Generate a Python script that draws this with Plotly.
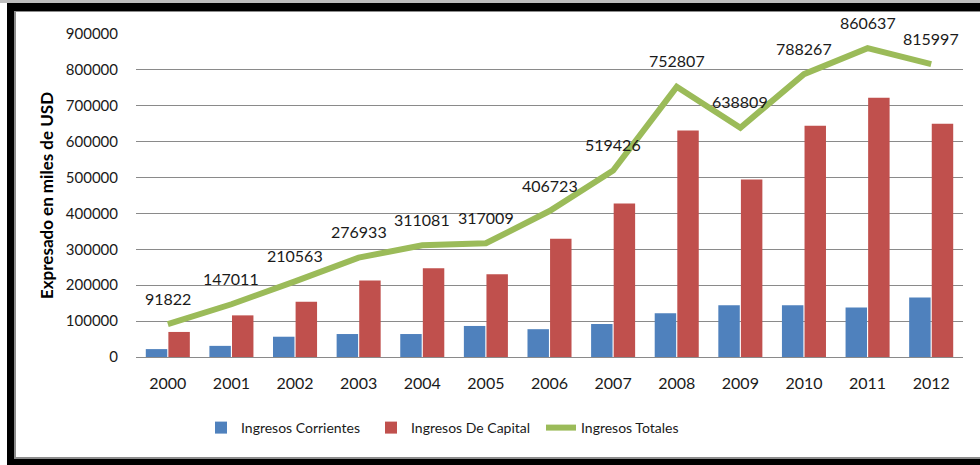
import plotly.graph_objects as go

years = ["2000", "2001", "2002", "2003", "2004", "2005", "2006",
         "2007", "2008", "2009", "2010", "2011", "2012"]
corrientes = [22000, 31000, 56500, 64000, 64000, 86500, 77500,
              92000, 122000, 144000, 144000, 138000, 166000]
capital = [69800, 116000, 154000, 213000, 247000, 230500, 329200,
           427400, 630800, 494800, 644300, 722600, 650000]
totales = [91822, 147011, 210563, 276933, 311081, 317009, 406723,
           519426, 752807, 638809, 788267, 860637, 815997]
y_ticks = [0, 100000, 200000, 300000, 400000, 500000, 600000, 700000, 800000, 900000]

FONT = "Lato"
TXT = "#1a1a1a"

W, H = 980, 465
L, R, T, B = 136, 17, 34, 108
pw, ph = W - L - R, H - T - B


def px(x):
    return (x - L) / pw


def py(y):
    return (H - B - y) / ph


fig = go.Figure()
fig.add_trace(go.Bar(x=years, y=corrientes, name="Ingresos Corrientes",
                     marker=dict(color="#4F81BD", line=dict(width=0))))
fig.add_trace(go.Bar(x=years, y=capital, name="Ingresos De Capital",
                     marker=dict(color="#C0504D", line=dict(width=0))))
fig.add_trace(go.Scatter(x=years, y=totales, name="Ingresos Totales", mode="lines",
                         line=dict(color="#9BBB59", width=6)))

for i, v in enumerate(totales):
    fig.add_annotation(x=i, y=v, xref="x", yref="y", text=str(v), showarrow=False,
                       yshift=26, font=dict(family=FONT, size=16, color=TXT))

shapes = [
    dict(type="rect", xref="paper", yref="paper", x0=px(0), x1=px(W), y0=py(0), y1=py(3),
         fillcolor="#bdbdbd", line=dict(width=0), layer="below"),
    dict(type="rect", xref="paper", yref="paper", x0=px(7), x1=px(W + 10), y0=py(3), y1=py(H + 10),
         fillcolor="#000000", line=dict(width=0), layer="below"),
    dict(type="rect", xref="paper", yref="paper", x0=px(14), x1=px(W + 10), y0=py(11), y1=py(459),
         fillcolor="#8c8c8c", line=dict(width=0), layer="below"),
    dict(type="rect", xref="paper", yref="paper", x0=px(16), x1=px(W + 10), y0=py(12), y1=py(457),
         fillcolor="#ffffff", line=dict(width=0), layer="below"),
]

fig.update_layout(
    width=W, height=H,
    margin=dict(l=L, r=R, t=T, b=B, pad=0),
    paper_bgcolor="white", plot_bgcolor="rgba(0,0,0,0)",
    barmode="group", bargap=0.29, bargroupgap=0.05,
    font=dict(family=FONT, color=TXT),
    showlegend=True,
    legend=dict(orientation="h", x=px(201), xanchor="left", y=py(428), yanchor="middle",
                font=dict(family=FONT, size=14, color=TXT), entrywidth=125,
                bgcolor="rgba(0,0,0,0)", traceorder="normal"),
    shapes=shapes,
)
fig.update_xaxes(type="category", range=[-0.5, 12.5], showgrid=False, showline=False,
                 ticks="", tickfont=dict(family=FONT, size=16, color=TXT),
                 ticklabelstandoff=15, fixedrange=True)
fig.update_yaxes(range=[0, 900000], tickvals=y_ticks, ticktext=[str(v) for v in y_ticks],
                 showgrid=True, gridcolor="#8a8a8a", gridwidth=1,
                 zeroline=True, zerolinecolor="#8a8a8a", zerolinewidth=1,
                 showline=False, ticks="", tickfont=dict(family=FONT, size=15, color=TXT),
                 ticklabelstandoff=17,
                 title=dict(text="<b>Expresado en miles de USD</b>",
                            font=dict(family=FONT, size=17, color="#000"),
                            standoff=7),
                 fixedrange=True)

fig.write_html("out.html", config={"displayModeBar": False},
               post_script="document.body.style.margin='0';")
